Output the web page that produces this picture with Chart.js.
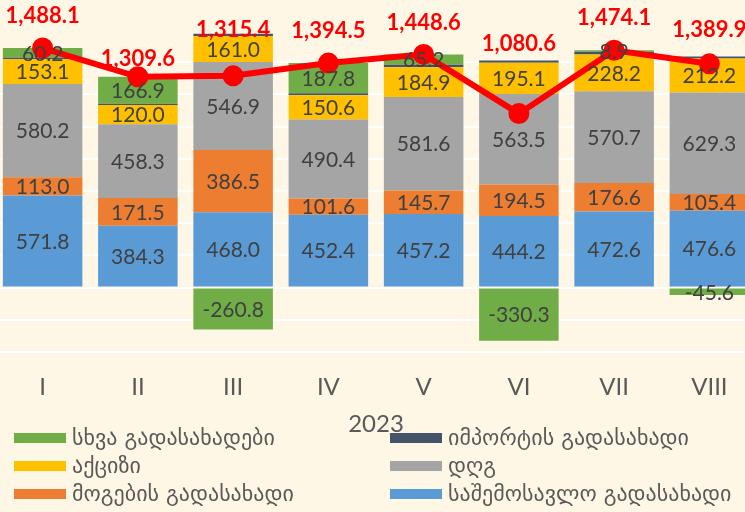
<!DOCTYPE html>
<html>
<head>
<meta charset="utf-8">
<script src="https://cdn.jsdelivr.net/npm/chart.js@4/dist/chart.umd.min.js"></script>
<style>
  html, body { margin: 0; padding: 0; }
  body { width: 745px; height: 512px; overflow: hidden; background: #fef7e5; position: relative; }
  #chart { position: absolute; left: -5px; top: 0; }
  #legend { position: absolute; left: 0; top: 428px; width: 745px; }
  .item { position: absolute; height: 28px; line-height: 20px; font-family: "DejaVu Sans", sans-serif; font-size: 22px; color: #595959; white-space: nowrap; }
  .box { display: inline-block; width: 52px; height: 10px; margin-right: 6px; vertical-align: 2px; }
</style>
</head>
<body>
<canvas id="chart" width="762" height="440"></canvas>
<div id="legend"></div>
<script>
// months of 2023
var months = ['I', 'II', 'III', 'IV', 'V', 'VI', 'VII', 'VIII'];
var yearTitle = '2023';

// stacked from bottom to top
var incomeTax = [571.8, 384.3, 468.0, 452.4, 457.2, 444.2, 472.6, 476.6];
var profitTax = [113.0, 171.5, 386.5, 101.6, 145.7, 194.5, 176.6, 105.4];
var vat = [580.2, 458.3, 546.9, 490.4, 581.6, 563.5, 570.7, 629.3];
var excise = [153.1, 120.0, 161.0, 150.6, 184.9, 195.1, 228.2, 212.2];
var importTax = [9.8, 8.6, 13.8, 11.7, 14.0, 13.6, 17.1, 12.0];
var otherTaxes = [60.2, 166.9, -260.8, 187.8, 65.2, -330.3, 8.9, -45.6];
var totals = [1488.1, 1309.6, 1315.4, 1394.5, 1448.6, 1080.6, 1474.1, 1389.9];

// how far the red total labels sit above their points (px)
var totalLabelLift = [32, 18, 46, 32, 31, 70, 32, 34];

var series = [
    { name: 'საშემოსავლო გადასახადი', data: incomeTax, color: '#5b9bd5', labels: true },
    { name: 'მოგების გადასახადი', data: profitTax, color: '#ed7d31', labels: true },
    { name: 'დღგ', data: vat, color: '#a5a5a5', labels: true },
    { name: 'აქციზი', data: excise, color: '#ffc000', labels: true },
    { name: 'იმპორტის გადასახადი', data: importTax, color: '#44546a', labels: false },
    { name: 'სხვა გადასახადები', data: otherTaxes, color: '#70ad47', labels: true }
];

var fmt = function (v) {
    return v.toLocaleString('en-US', { minimumFractionDigits: 1, maximumFractionDigits: 1 });
};

var datasets = series.map(function (s) {
    return {
        type: 'bar',
        label: s.name,
        data: s.data,
        backgroundColor: s.color,
        borderWidth: 0,
        stack: 'taxes',
        order: 2,
        showLabels: s.labels,
        barPercentage: 0.835,
        categoryPercentage: 1
    };
});
datasets.push({
    type: 'line',
    label: 'total',
    data: totals,
    borderColor: '#ff0000',
    backgroundColor: '#ff0000',
    borderWidth: 6,
    pointRadius: 7.5,
    pointHoverRadius: 7.5,
    tension: 0,
    stack: 'total',
    order: 0,
    clip: false
});

var labelPlugin = {
    id: 'valueLabels',
    afterDatasetsDraw: function (chart) {
        var ctx = chart.ctx;
        ctx.save();
        ctx.textAlign = 'center';
        ctx.textBaseline = 'middle';
        chart.data.datasets.forEach(function (ds, i) {
            var meta = chart.getDatasetMeta(i);
            if (ds.type === 'bar') {
                if (!ds.showLabels) return;
                ctx.font = '21px Lato';
                ctx.fillStyle = '#404040';
                meta.data.forEach(function (el, j) {
                    ctx.fillText(fmt(ds.data[j]), el.x, (el.y + el.base) / 2 + 1);
                });
            } else {
                ctx.font = 'bold 22px Lato';
                ctx.fillStyle = '#ff0000';
                meta.data.forEach(function (el, j) {
                    ctx.fillText(fmt(ds.data[j]), el.x, el.y - totalLabelLift[j]);
                });
            }
        });
        ctx.restore();
    }
};

new Chart(document.getElementById('chart'), {
    data: { labels: months, datasets: datasets },
    options: {
        responsive: false,
        animation: false,
        layout: { autoPadding: false, padding: { top: 30, left: 0, right: 0, bottom: 0 } },
        plugins: {
            legend: { display: false },
            tooltip: { enabled: false }
        },
        scales: {
            x: {
                stacked: true,
                grid: { display: false },
                border: { display: false },
                ticks: { color: '#595959', font: { family: 'Lato', size: 24 }, padding: 13 },
                title: { display: true, text: yearTitle, color: '#595959', font: { family: 'Lato', size: 24 }, padding: { top: 0, bottom: 1 } },
                afterFit: function (scale) { scale.height = 88; scale.paddingLeft = 0; scale.paddingRight = 0; }
            },
            y: {
                stacked: true,
                display: true,
                min: -400,
                max: 1600,
                ticks: { display: false, stepSize: 200, padding: 0 },
                border: { display: false },
                grid: {
                    color: function (c) { return c.tick && c.tick.value === 1600 ? 'rgba(0,0,0,0)' : '#ffffff'; },
                    lineWidth: 2,
                    drawTicks: false
                },
                afterFit: function (scale) { scale.width = 0; }
            }
        }
    },
    plugins: [labelPlugin]
});

// legend in two columns, same order as the reference
var legendOrder = [5, 4, 3, 2, 1, 0];
var legend = document.getElementById('legend');
legendOrder.forEach(function (si, k) {
    var s = series[si];
    var div = document.createElement('div');
    div.className = 'item';
    div.style.left = (k % 2 === 0 ? 14 : 390) + 'px';
    div.style.top = (Math.floor(k / 2) * 28) + 'px';
    div.innerHTML = '<span class="box" style="background:' + s.color + '"></span>' + s.name;
    legend.appendChild(div);
});
</script>
</body>
</html>
